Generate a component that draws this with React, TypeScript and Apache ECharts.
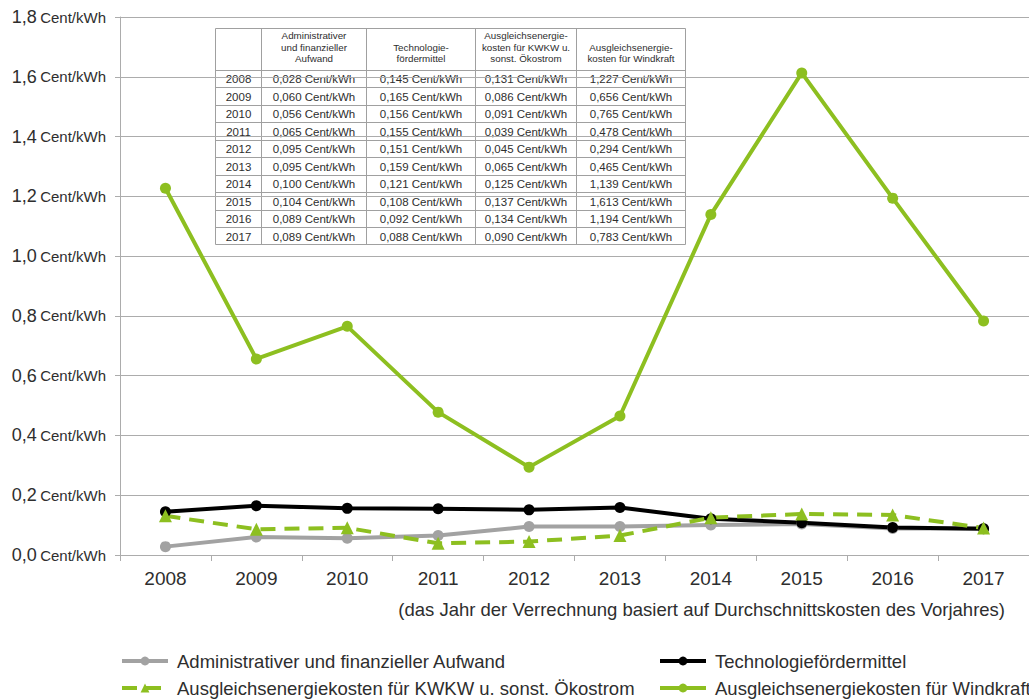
import React, { useEffect, useRef } from "react";
import * as echarts from "echarts";

const years = ["2008", "2009", "2010", "2011", "2012", "2013", "2014", "2015", "2016", "2017"];
const adminCost = [0.028, 0.06, 0.056, 0.065, 0.095, 0.095, 0.1, 0.104, 0.089, 0.089];
const techFunds = [0.145, 0.165, 0.156, 0.155, 0.151, 0.159, 0.121, 0.108, 0.092, 0.088];
const balanceKwkw = [0.131, 0.086, 0.091, 0.039, 0.045, 0.065, 0.125, 0.137, 0.134, 0.09];
const balanceWind = [1.227, 0.656, 0.765, 0.478, 0.294, 0.465, 1.139, 1.613, 1.194, 0.783];

const seriesNames = [
  "Administrativer und finanzieller Aufwand",
  "Technologiefördermittel",
  "Ausgleichsenergiekosten für KWKW u. sonst. Ökostrom",
  "Ausgleichsenergiekosten für Windkraft",
];
const tableHeaders = [
  "Administrativer\nund finanzieller\nAufwand",
  "Technologie-\nfördermittel",
  "Ausgleichsenergie-\nkosten für KWKW u.\nsonst. Ökostrom",
  "Ausgleichsenergie-\nkosten für Windkraft",
];
const unit = "Cent/kWh";
const subtitle = "(das Jahr der Verrechnung basiert auf Durchschnittskosten des Vorjahres)";

const GREEN = "#8dbf20";
const GRAY = "#a2a2a2";
const TEXT = "#2e2e2e";
const LINE = "#acacac";
const TABLE_LINE = "#a0a0a0";
const FONT = "'Liberation Sans', Arial, sans-serif";

const fmt = (v: number, d: number) => v.toFixed(d).replace(".", ",");

// Overlay table listing every value of the four series
function buildTable() {
  const x0 = 215.5;
  const y0 = 28.5;
  const colW = [46, 105, 109, 101, 109];
  const headH = 41;
  const rowH = 17.5;
  const cols = [adminCost, techFunds, balanceKwkw, balanceWind];
  const totalW = colW.reduce((a, b) => a + b, 0);
  const totalH = headH + rowH * years.length;
  const children: any[] = [];
  children.push({
    type: "rect",
    shape: { x: x0, y: y0, width: totalW, height: totalH },
    style: { fill: "#fff", stroke: TABLE_LINE, lineWidth: 1 },
  });
  const colX: number[] = [];
  let cx = x0;
  colW.forEach((w) => {
    colX.push(cx);
    cx += w;
  });
  colX.slice(1).forEach((x) => {
    children.push({
      type: "line",
      shape: { x1: x, y1: y0, x2: x, y2: y0 + totalH },
      style: { stroke: TABLE_LINE, lineWidth: 1 },
    });
  });
  for (let r = 0; r < years.length; r++) {
    const y = Math.round(y0 + headH + r * rowH) + 0.5;
    children.push({
      type: "line",
      shape: { x1: x0, y1: y, x2: x0 + totalW, y2: y },
      style: { stroke: TABLE_LINE, lineWidth: 1 },
    });
  }
  tableHeaders.forEach((h, i) => {
    children.push({
      type: "text",
      style: {
        text: h,
        x: colX[i + 1] + colW[i + 1] / 2,
        y: y0 + headH - 5,
        align: "center",
        verticalAlign: "bottom",
        fontSize: 9.8,
        lineHeight: 11.5,
        fontFamily: FONT,
        fill: TEXT,
      },
    });
  });
  years.forEach((yr, r) => {
    const cy = y0 + headH + r * rowH + rowH / 2 + 1;
    children.push({
      type: "text",
      style: {
        text: yr,
        x: colX[0] + colW[0] / 2,
        y: cy,
        align: "center",
        verticalAlign: "middle",
        fontSize: 11.5,
        fontFamily: FONT,
        fill: TEXT,
      },
    });
    cols.forEach((arr, c) => {
      children.push({
        type: "text",
        style: {
          text: `${fmt(arr[r], 3)} ${unit}`,
          x: colX[c + 1] + colW[c + 1] / 2,
          y: cy,
          align: "center",
          verticalAlign: "middle",
          fontSize: 11.5,
          fontFamily: FONT,
          fill: TEXT,
        },
      });
    });
  });
  return { type: "group", z: 100, children };
}

function legendAt(name: string, left: number, top: number) {
  return {
    left,
    top,
    padding: 0,
    itemWidth: 46,
    itemHeight: 11,
    selectedMode: false,
    data: [name],
    lineStyle: { width: 4 },
    textStyle: { fontSize: 18.5, lineHeight: 22, color: TEXT, fontFamily: FONT, padding: [0, 0, 0, 4] },
  };
}

export default function App() {
  const ref = useRef<HTMLDivElement>(null);
  useEffect(() => {
    if (!ref.current) return;
    const chart = echarts.init(ref.current, null, { renderer: "svg" });
    const lineBase = (name: string, data: number[], color: string, symbol: string, dashed: boolean) => ({
      name,
      type: "line",
      data,
      symbol,
      symbolSize: symbol === "triangle" ? 13 : 11,
      showSymbol: true,
      itemStyle: { color },
      lineStyle: { color, width: 4, type: dashed ? [15, 9] : "solid" },
      emphasis: { disabled: true },
    });
    chart.setOption({
      animation: false,
      textStyle: { fontFamily: FONT },
      grid: { left: 120, top: 17, width: 911, height: 538, containLabel: false },
      xAxis: {
        type: "category",
        data: years,
        boundaryGap: true,
        axisLine: { lineStyle: { color: LINE, width: 1 } },
        axisTick: { show: true, length: 6, lineStyle: { color: LINE } },
        axisLabel: { color: TEXT, fontSize: 19, margin: 14 },
        splitLine: { show: false },
      },
      yAxis: {
        type: "value",
        min: 0,
        max: 1.8,
        interval: 0.2,
        axisLine: { show: true, lineStyle: { color: LINE, width: 1 } },
        axisTick: { show: true, length: 5, lineStyle: { color: LINE } },
        splitLine: { show: true, lineStyle: { color: LINE, width: 1 } },
        axisLabel: {
          margin: 14,
          formatter: (v: number) => `{a|${fmt(v, 1)}} {b|${unit}}`,
          rich: {
            a: { fontSize: 18, color: TEXT, fontFamily: FONT },
            b: { fontSize: 15, color: TEXT, fontFamily: FONT },
          },
        },
      },
      legend: [
        legendAt(seriesNames[0], 120, 650),
        legendAt(seriesNames[2], 120, 677),
        legendAt(seriesNames[1], 658, 650),
        legendAt(seriesNames[3], 658, 677),
      ],
      graphic: [
        buildTable(),
        {
          type: "text",
          style: {
            text: subtitle,
            x: 1005,
            y: 609,
            align: "right",
            verticalAlign: "middle",
            fontSize: 18.5,
            fontFamily: FONT,
            fill: TEXT,
          },
        },
      ],
      series: [
        lineBase(seriesNames[0], adminCost, GRAY, "circle", false),
        lineBase(seriesNames[1], techFunds, "#000000", "circle", false),
        lineBase(seriesNames[2], balanceKwkw, GREEN, "triangle", true),
        lineBase(seriesNames[3], balanceWind, GREEN, "circle", false),
      ],
    });
    return () => chart.dispose();
  }, []);
  return (
    <div
      ref={ref}
      style={{ position: "fixed", left: 0, top: 0, width: 1029, height: 700, background: "#fff" }}
    />
  );
}
